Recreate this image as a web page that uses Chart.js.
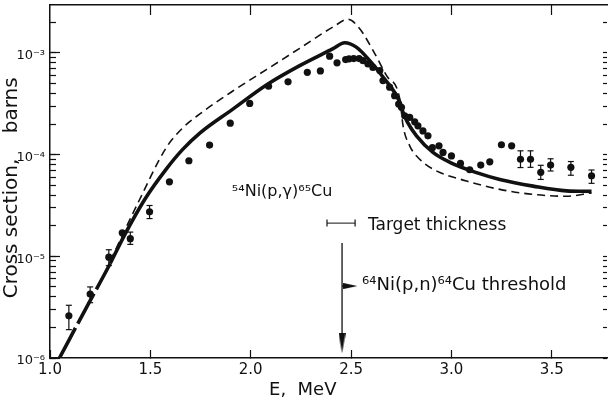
<!DOCTYPE html>
<html>
<head>
<meta charset="utf-8">
<script src="https://cdn.jsdelivr.net/npm/chart.js@4.4.1/dist/chart.umd.min.js"></script>
<style>
    html, body { margin: 0; padding: 0; background: #fff; }
    #wrap { width: 609px; height: 401px; position: relative; }
</style>
</head>
<body>
<div id="wrap"><canvas id="xs_chart"></canvas></div>
<script>
// measured points (E in MeV, cross section in barns)
const dotE = [1.094, 1.200, 1.293, 1.36, 1.40, 1.496, 1.595, 1.692, 1.795, 1.898, 1.995,
    2.089, 2.186, 2.282, 2.347, 2.393, 2.430, 2.473, 2.49, 2.513, 2.54, 2.56, 2.584, 2.609,
    2.643, 2.659, 2.692, 2.717, 2.737, 2.751, 2.767, 2.792, 2.817, 2.833, 2.858, 2.883, 2.905,
    2.938, 2.958, 3.0, 3.045, 3.091, 3.146, 3.191, 3.249, 3.30, 3.344, 3.394, 3.445, 3.494,
    3.595, 3.698];
const dotY = [2.6e-6, 4.25e-6, 9.8e-6, 1.7e-5, 1.49e-5, 2.74e-5, 5.4e-5, 8.7e-5, 1.24e-4, 2.04e-4, 3.19e-4,
    4.7e-4, 5.2e-4, 6.45e-4, 6.65e-4, 9.3e-4, 8.0e-4, 8.6e-4, 8.75e-4, 8.8e-4, 8.8e-4, 8.4e-4, 7.8e-4, 7.2e-4,
    6.7e-4, 5.35e-4, 4.6e-4, 3.8e-4, 3.14e-4, 2.92e-4, 2.41e-4, 2.32e-4, 2.1e-4, 1.92e-4, 1.71e-4, 1.53e-4, 1.17e-4,
    1.22e-4, 1.05e-4, 9.7e-5, 8.2e-5, 7.1e-5, 7.9e-5, 8.5e-5, 1.25e-4, 1.22e-4, 9.0e-5, 9.0e-5, 6.7e-5, 7.9e-5,
    7.5e-5, 6.2e-5];

// error bars
const errE  = [1.094, 1.200, 1.293, 1.40, 1.496, 3.344, 3.394, 3.445, 3.494, 3.595, 3.698];
const errLo = [1.9e-6, 3.5e-6, 8.1e-6, 1.31e-5, 2.35e-5, 7.46e-5, 7.5e-5, 5.7e-5, 6.9e-5, 6.27e-5, 5.22e-5];
const errHi = [3.3e-6, 5.0e-6, 1.16e-5, 1.73e-5, 3.16e-5, 1.09e-4, 1.09e-4, 7.85e-5, 9.1e-5, 8.55e-5, 7.06e-5];

// calculated curves
const solidE = [1.047, 1.18, 1.30, 1.37, 1.471, 1.579, 1.66, 1.745, 1.911, 2.078, 2.244, 2.41, 2.468, 2.526,
    2.593, 2.659, 2.743, 2.759, 2.78, 2.826, 2.908, 2.992, 3.125, 3.241, 3.407, 3.573, 3.698];
const solidY = [1.0e-6, 3.1e-6, 8.5e-6, 1.6e-5, 3.6e-5, 7.2e-5, 1.12e-4, 1.62e-4, 2.8e-4, 4.84e-4, 7.5e-4, 1.1e-3, 1.26e-3, 1.14e-3,
    8.4e-4, 5.8e-4, 3.27e-4, 2.6e-4, 2.1e-4, 1.53e-4, 1.05e-4, 8.4e-5, 6.65e-5, 5.7e-5, 4.9e-5, 4.4e-5, 4.35e-5];
const dashE = [1.30, 1.446, 1.579, 1.66, 1.745, 1.911, 2.078, 2.244, 2.41, 2.485, 2.543, 2.609, 2.676, 2.743,
    2.759, 2.792, 2.842, 2.908, 3.075, 3.241, 3.407, 3.573, 3.698];
const dashY = [9.0e-6, 3.6e-5, 1.17e-4, 1.82e-4, 2.5e-4, 4.22e-4, 6.85e-4, 1.11e-3, 1.8e-3, 2.14e-3, 1.73e-3, 1.06e-3, 6.0e-4, 3.5e-4,
    1.92e-4, 1.22e-4, 9.0e-5, 7.2e-5, 5.5e-5, 4.55e-5, 4.06e-5, 3.9e-5, 4.2e-5];

// target thickness bar and 64Ni(p,n) threshold
const thickE = [2.380, 2.520];
const thickY = 2.12e-5;
const threshE = 2.455;
const threshY = [1.35e-5, 1.40e-6];
const pointerE = [2.455, 2.497];
const pointerY = 5.1e-6;

// axes
const xMin = 1.0, xMax = 3.775;
const yMin = 1e-6, yMax = 2.96e-3;
const xTicks = [1.0, 1.5, 2.0, 2.5, 3.0, 3.5];
const xTickLabels = ['1.0', '1.5', '2.0', '2.5', '3.0', '3.5'];
const xTopTicks = [1.5, 2.0, 2.5, 3.0, 3.5];
const yDecades = [1e-6, 1e-5, 1e-4, 1e-3];
const yTickLabels = ['10\u207B\u2076', '10\u207B\u2075', '10\u207B\u2074', '10\u207B\u00B3'];
const yMinorSteps = [2, 3, 4, 5, 6, 7, 8, 9];

const yAllTicks = [];
yDecades.forEach(d => {
    yAllTicks.push(d);
    yMinorSteps.forEach(m => { if (d * m <= yMax) yAllTicks.push(d * m); });
});

const notes = [
    { text: '\u2075\u2074Ni(p,\u03B3)\u2076\u2075Cu', e: 1.906, s: 3.92e-5, size: 16 },
    { text: 'Target thickness', e: 2.584, s: 1.82e-5, size: 17 },
    { text: '\u2076\u2074Ni(p,n)\u2076\u2074Cu threshold', e: 2.555, s: 4.67e-6, size: 18 }
];

const ink = '#111';
const fontFamily = '"DejaVu Sans", sans-serif';

function arrowHead(w, h) {
    const c = document.createElement('canvas');
    c.width = w;
    c.height = h;
    const g = c.getContext('2d');
    g.fillStyle = ink;
    g.beginPath();
    g.moveTo(0, 0);
    g.lineTo(w, 0);
    g.lineTo(w / 2, h);
    g.closePath();
    g.fill();
    return c;
}
const headDown = arrowHead(7, 20);
const headRight = arrowHead(6, 14);

const pts = (xs, ys) => xs.map((x, i) => ({ x: x, y: ys[i] }));

const errData = [];
errE.forEach((x, i) => {
    errData.push({ x: x, y: errLo[i] }, { x: x, y: errHi[i] }, { x: x, y: null });
});

const notesPlugin = {
    id: 'notes',
    afterDatasetsDraw(chart) {
        const { ctx, scales: { x, y } } = chart;
        ctx.save();
        ctx.fillStyle = ink;
        ctx.textAlign = 'left';
        ctx.textBaseline = 'alphabetic';
        notes.forEach(n => {
            ctx.font = n.size + 'px ' + fontFamily;
            ctx.fillText(n.text, x.getPixelForValue(n.e), y.getPixelForValue(n.s));
        });
        ctx.restore();
    }
};

Chart.defaults.font.family = fontFamily;
Chart.defaults.color = ink;

const base = { xAxisID: 'x', yAxisID: 'y' };

const logAxis = (extra) => Object.assign({
    type: 'logarithmic',
    min: yMin,
    max: yMax,
    afterBuildTicks: s => { s.ticks = yAllTicks.map(v => ({ value: v })); }
}, extra);

new Chart(document.getElementById('xs_chart').getContext('2d'), {
    type: 'line',
    data: {
        datasets: [
            Object.assign({}, base, {
                data: pts(dashE, dashY),
                borderColor: ink,
                borderWidth: 1.6,
                borderDash: [8, 5],
                pointRadius: 0,
                cubicInterpolationMode: 'monotone'
            }),
            Object.assign({}, base, {
                data: pts(solidE, solidY),
                borderColor: ink,
                borderWidth: 3.6,
                pointRadius: 0,
                cubicInterpolationMode: 'monotone',
                segment: {
                    borderDash: c => (c.p1.parsed.x <= 1.30 ? [34, 5] : undefined)
                }
            }),
            Object.assign({}, base, {
                data: errData,
                borderColor: ink,
                borderWidth: 1.2,
                spanGaps: false,
                pointStyle: 'line',
                pointRadius: 3,
                pointBorderWidth: 1.2,
                pointBorderColor: ink
            }),
            Object.assign({}, base, {
                data: pts(dotE, dotY),
                showLine: false,
                pointStyle: 'circle',
                pointRadius: 3.6,
                pointBorderWidth: 0,
                pointBackgroundColor: ink
            }),
            Object.assign({}, base, {
                data: thickE.map(x => ({ x: x, y: thickY })),
                borderColor: ink,
                borderWidth: 1,
                pointStyle: 'line',
                pointRotation: 90,
                pointRadius: 3.5,
                pointBorderWidth: 1.2,
                pointBorderColor: ink
            }),
            Object.assign({}, base, {
                data: threshY.map(y => ({ x: threshE, y: y })),
                borderColor: ink,
                borderWidth: 1.3,
                pointStyle: ['circle', headDown],
                pointRadius: [0, 2]
            }),
            Object.assign({}, base, {
                data: pointerE.map(x => ({ x: x, y: pointerY })),
                borderColor: ink,
                borderWidth: 1.3,
                pointStyle: ['circle', headRight],
                pointRotation: -90,
                pointRadius: [0, 2]
            })
        ]
    },
    options: {
        responsive: true,
        maintainAspectRatio: false,
        animation: false,
        layout: { padding: { top: 5, left: 0, right: 0, bottom: 0 }, autoPadding: false },
        plugins: {
            legend: { display: false },
            tooltip: { enabled: false }
        },
        scales: {
            x: {
                type: 'linear',
                position: 'bottom',
                min: xMin,
                max: xMax,
                afterBuildTicks: s => { s.ticks = xTicks.map(v => ({ value: v })); },
                afterFit: s => { s.height = 43; s.paddingLeft = 0; s.paddingRight = 0; },
                grid: { drawOnChartArea: false, tickLength: -8, tickColor: ink, tickWidth: 1.2 },
                border: { display: true, color: ink, width: 1.5 },
                ticks: {
                    autoSkip: false,
                    maxRotation: 0,
                    padding: 11,
                    font: { size: 15 },
                    callback: (v) => {
                        const i = xTicks.indexOf(v);
                        return i >= 0 ? xTickLabels[i] : '';
                    }
                },
                title: {
                    display: true,
                    text: 'E,  MeV         ',
                    font: { size: 18 },
                    padding: { top: 0, bottom: 0 }
                }
            },
            x2: {
                type: 'linear',
                position: 'top',
                min: xMin,
                max: xMax,
                afterBuildTicks: s => { s.ticks = xTopTicks.map(v => ({ value: v })); },
                afterFit: s => { s.height = 0; },
                grid: { drawOnChartArea: false, tickLength: -10, tickColor: ink, tickWidth: 1.2 },
                border: { display: true, color: ink, width: 1.5 },
                ticks: { display: false }
            },
            y: logAxis({
                position: 'left',
                weight: 1,
                afterFit: s => { s.width = 50; s.paddingTop = 0; s.paddingBottom = 0; },
                grid: { drawOnChartArea: false, tickLength: -6, tickColor: ink, tickWidth: 1.2 },
                border: { display: true, color: ink, width: 1.5 },
                ticks: {
                    autoSkip: false,
                    padding: 11,
                    labelOffset: 3,
                    font: { size: 13 },
                    callback: (v) => {
                        const i = yDecades.findIndex(d => Math.abs(d - v) / d < 1e-6);
                        return i >= 0 ? yTickLabels[i] : '';
                    }
                },
                title: {
                    display: true,
                    text: 'Cross section,    barns  ',
                    font: { size: 20 },
                    padding: { top: 0, bottom: 0 }
                }
            }),
            yMajor: {
                type: 'logarithmic',
                position: 'left',
                weight: 0,
                min: yMin,
                max: yMax,
                afterBuildTicks: s => { s.ticks = yDecades.map(v => ({ value: v })); },
                afterFit: s => { s.width = 0; s.paddingTop = 0; s.paddingBottom = 0; },
                grid: { drawOnChartArea: false, tickLength: -10, tickColor: ink, tickWidth: 1.2 },
                border: { display: false },
                ticks: { display: false }
            },
            yRight: logAxis({
                position: 'right',
                afterFit: s => { s.width = 2; s.paddingTop = 0; s.paddingBottom = 0; },
                grid: { drawOnChartArea: false, tickLength: -4, tickColor: ink, tickWidth: 1.2 },
                border: { display: false },
                ticks: { display: false }
            })
        }
    },
    plugins: [notesPlugin]
});
</script>
</body>
</html>
